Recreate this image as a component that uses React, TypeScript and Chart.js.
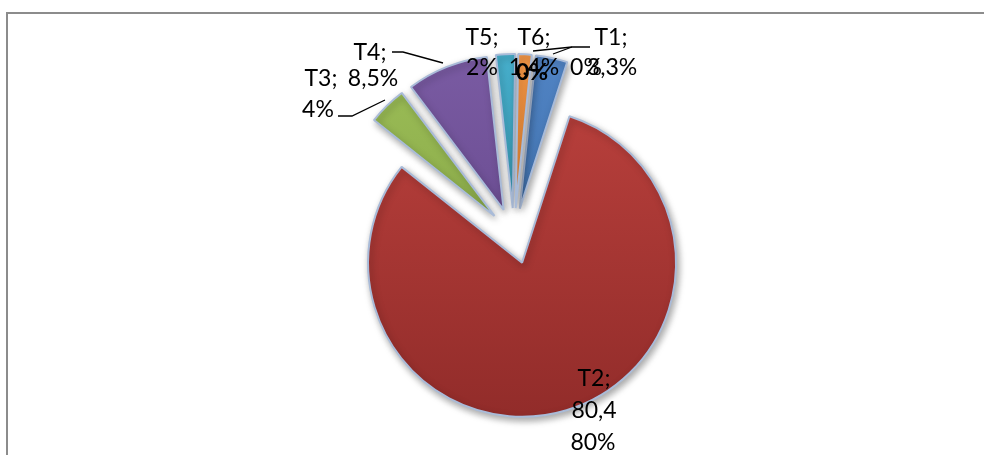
import React, { useEffect, useRef } from "react";
import { Chart, registerables, ArcElement, PieController } from "chart.js";

Chart.register(...registerables);

// ---- data ----
const categories = ["T1", "T2", "T3", "T4", "T5", "T6"];
const values = [3.3, 80.4, 4, 8.5, 2, 1.4];
const lightColors = ["#5487c8", "#bd423e", "#9fc15a", "#7d5ea6", "#4ab3d0", "#f79a4a"];
const darkColors = ["#34659f", "#8e2a28", "#7d9c3e", "#5e4184", "#2b8ba6", "#d9761f"];

// data-label texts (as shown in the original)
const labelTexts = ["T1;", "3,3%", "0%", "T2;", "80,4", "80%", "T3;", "4%", "T4;", "8,5%", "T5;", "2%", "T6;", "1,4%", "0%"];
const labelBold = [false, false, false, false, false, false, false, false, false, false, false, false, false, false, true];
// label layout (centre x, baseline y)
const labelX = [611, 612, 586, 594, 594, 593, 321, 318, 370, 373, 482, 482, 534, 534, 532];
const labelY = [45, 75, 75, 386, 418, 450, 86, 117, 60, 86, 45, 75, 45, 75, 80];
// leader lines
const leaders: number[][] = [
  [392, 52, 403, 52, 443, 63],
  [338, 116, 352, 116, 385, 100],
  [590, 47, 572, 47, 533, 51],
  [572, 47, 553, 54],
];

const EXPLODE = 28;
const RADIUS = 154;
const ROTATION = 6;

// Arc element that is pushed out of the centre by a fixed distance (Excel-style explosion)
class ExplodedArc extends (ArcElement as any) {
  static id = "explodedArc";
  draw(ctx: CanvasRenderingContext2D) {
    const half = ((this as any).startAngle + (this as any).endAngle) / 2;
    ctx.save();
    ctx.translate(Math.cos(half) * EXPLODE, Math.sin(half) * EXPLODE);
    super.draw(ctx);
    ctx.restore();
  }
}
class ExplodedPie extends (PieController as any) {
  static id = "explodedPie";
  static defaults = { dataElementType: "explodedArc" };
}
Chart.register(ExplodedArc as any, ExplodedPie as any);

const labelPlugin = {
  id: "excelLabels",
  beforeDatasetsDraw(chart: any) {
    const ctx = chart.ctx;
    ctx.save();
    ctx.shadowColor = "rgba(0,0,0,0.35)";
    ctx.shadowBlur = 7;
    ctx.shadowOffsetX = 2;
    ctx.shadowOffsetY = 3;
  },
  afterDatasetsDraw(chart: any) {
    const ctx = chart.ctx;
    ctx.restore();
    ctx.save();
    ctx.strokeStyle = "#000";
    ctx.lineWidth = 1.3;
    for (const l of leaders) {
      ctx.beginPath();
      ctx.moveTo(l[0], l[1]);
      for (let i = 2; i < l.length; i += 2) ctx.lineTo(l[i], l[i + 1]);
      ctx.stroke();
    }
    ctx.fillStyle = "#000";
    ctx.textAlign = "center";
    ctx.textBaseline = "alphabetic";
    labelTexts.forEach((t, i) => {
      ctx.font = (labelBold[i] ? "bold " : "") + "23px Lato";
      ctx.fillText(t, labelX[i], labelY[i]);
    });
    ctx.restore();
  },
};

export default function App() {
  const ref = useRef<HTMLCanvasElement | null>(null);
  useEffect(() => {
    if (!ref.current) return;
    const chart = new Chart(ref.current, {
      type: "explodedPie" as any,
      data: {
        labels: categories,
        datasets: [
          {
            data: values,
            backgroundColor: (c: any) => {
              const g = c.chart.ctx.createLinearGradient(0, 40, 0, 420);
              g.addColorStop(0, lightColors[c.dataIndex]);
              g.addColorStop(1, darkColors[c.dataIndex]);
              return g;
            },
            borderColor: "#a9bbd8",
            borderWidth: 2,
          },
        ],
      },
      options: {
        animation: false,
        responsive: false,
        maintainAspectRatio: false,
        rotation: ROTATION,
        radius: RADIUS,
        layout: { padding: { left: 44, right: 0, top: 17, bottom: 0 } },
        plugins: {
          legend: { display: false },
          tooltip: { enabled: false },
        },
      } as any,
      plugins: [labelPlugin],
    });
    return () => chart.destroy();
  }, []);

  return (
    <div style={{ position: "fixed", left: 0, top: 0, width: 984, height: 455, overflow: "hidden", background: "#fff" }}>
      <div
        style={{
          position: "absolute",
          left: 6,
          top: 12,
          width: 1100,
          height: 600,
          borderTop: "2px solid #8c8c8c",
          borderLeft: "2px solid #8c8c8c",
        }}
      />
      <canvas ref={ref} width={984} height={455} style={{ position: "absolute", left: 0, top: 0, width: 984, height: 455 }} />
    </div>
  );
}
